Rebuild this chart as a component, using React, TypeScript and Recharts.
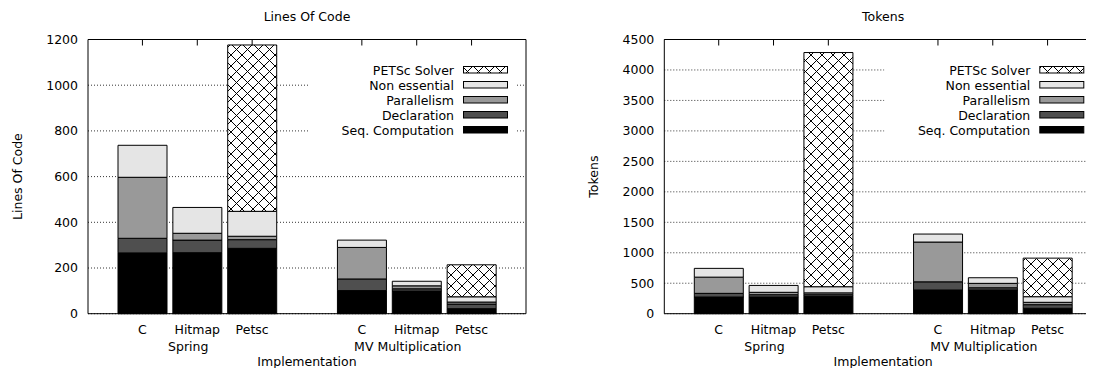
import { BarChart, Bar, XAxis, YAxis, CartesianGrid } from 'recharts'

// categories along the x axis (empty slot between the two groups)
const categories = ['C', 'Hitmap', 'Petsc', '', 'C', 'Hitmap', 'Petsc']
const groups = ['', 'Spring', '', '', '', 'MV Multiplication', '']

const seriesKeys = ['seq', 'decl', 'par', 'nonEss', 'solver']
const seriesNames = ['Seq. Computation', 'Declaration', 'Parallelism', 'Non essential', 'PETSc Solver']

// Lines Of Code
const locSeq = [266, 267, 286, null, 101, 99, 22]
const locDecl = [64, 55, 38, null, 51, 10, 20]
const locPar = [267, 30, 15, null, 138, 13, 9]
const locNonEss = [140, 113, 109, null, 32, 20, 23]
const locSolver = [0, 0, 728, null, 0, 0, 140]
const locTicks = [0, 200, 400, 600, 800, 1000, 1200]

// Tokens
const tokSeq = [274, 274, 285, null, 389, 389, 89]
const tokDecl = [60, 38, 27, null, 134, 37, 59]
const tokPar = [266, 39, 30, null, 653, 72, 39]
const tokNonEss = [144, 113, 101, null, 131, 92, 92]
const tokSolver = [0, 0, 3843, null, 0, 0, 633]
const tokTicks = [0, 500, 1000, 1500, 2000, 2500, 3000, 3500, 4000, 4500]

const FONT = 'DejaVu Sans, sans-serif'
const FS = 12.5
const H = 376
const TOP = 38.5
const XAXIS_H = 62.3
const RIGHT = 20
const YAXIS_W = 60
const HATCH = 11

function buildRows(seq, decl, par, nonEss, solver) {
  return categories.map((c, i) => ({
    id: 'k' + i,
    label: c,
    group: groups[i],
    seq: seq[i],
    decl: decl[i],
    par: par[i],
    nonEss: nonEss[i],
    solver: solver[i],
  }))
}

const locRows = buildRows(locSeq, locDecl, locPar, locNonEss, locSolver)
const tokRows = buildRows(tokSeq, tokDecl, tokPar, tokNonEss, tokSolver)

const fills = (pid: string) => ['#000000', '#4f4f4f', '#999999', '#e5e5e5', `url(#${pid})`]

interface PanelProps {
  title: string
  yLabel: string
  rows: any[]
  ticks: number[]
  width: number
  left: number
  pid: string
}

function Panel({ title, yLabel, rows, ticks, width, left, pid }: PanelProps) {
  const max = ticks[ticks.length - 1]
  const plotLeft = left + YAXIS_W
  const plotRight = width - RIGHT - 1
  const plotMid = (plotLeft + plotRight) / 2
  const plotTop = TOP + 1
  const plotBottom = H - XAXIS_H
  const colors = fills(pid)
  const byId: Record<string, any> = {}
  rows.forEach(r => (byId[r.id] = r))

  // category label, group label below it, and the mirrored tick on the top border
  const BottomTick = (p: any) => {
    const r = byId[p.payload.value]
    if (!r || !r.label) return <g />
    return (
      <g>
        <line x1={p.x} x2={p.x} y1={plotTop} y2={plotTop + 6} stroke="#000" strokeWidth={1} />
        <text x={p.x} y={p.y + 20.5} textAnchor="middle" fontSize={FS} fill="#000">{r.label}</text>
        {r.group ? (
          <text x={p.x - 9} y={p.y + 37.5} textAnchor="middle" fontSize={FS} fill="#000">{r.group}</text>
        ) : null}
      </g>
    )
  }

  const RightTick = (p: any) => {
    if (p.payload.value === 0 || p.payload.value === max) return <g />
    return <line x1={p.x - 8} x2={p.x} y1={p.y} y2={p.y} stroke="#000" />
  }

  const legendRows = [...seriesNames].reverse()
  const legendColors = [...colors].reverse()

  return (
    <BarChart
      width={width}
      height={H}
      data={rows}
      margin={{ top: TOP, right: RIGHT, bottom: 0, left: left }}
      barSize={49}
    >
      <defs>
        <pattern id={pid} width={HATCH} height={HATCH} patternUnits="userSpaceOnUse">
          <rect width={HATCH} height={HATCH} fill="#fff" />
          <path
            d={`M0,0 L${HATCH},${HATCH} M${HATCH},0 L0,${HATCH}`}
            stroke="#000"
            strokeWidth={1}
          />
        </pattern>
      </defs>

      <CartesianGrid vertical={false} stroke="#000" strokeDasharray="1 2" strokeWidth={0.8} />

      {/* legend background hides the grid */}
      <rect x={plotLeft + 220} y={58} width={207} height={82} fill="#fff" />

      {seriesKeys.map((k, i) => (
        <Bar
          key={k}
          dataKey={k}
          name={seriesNames[i]}
          stackId="a"
          fill={colors[i]}
          stroke="#000"
          strokeWidth={1}
          isAnimationActive={false}
        />
      ))}

      <XAxis
        dataKey="id"
        height={XAXIS_H}
        interval={0}
        tickSize={0}
        tickMargin={0}
        tickLine={false}
        axisLine={{ stroke: '#000' }}
        padding={{ left: 27, right: 27 }}
        tick={BottomTick}
      />
      <XAxis
        xAxisId="top"
        dataKey="id"
        orientation="top"
        height={1}
        tick={false}
        tickLine={false}
        axisLine={{ stroke: '#000' }}
        padding={{ left: 27, right: 27 }}
      />
      <YAxis
        width={YAXIS_W}
        domain={[0, max]}
        ticks={ticks}
        interval={0}
        tickSize={0}
        tickMargin={10}
        tickLine={false}
        axisLine={{ stroke: '#000' }}
        tick={{ fill: '#000', fontSize: FS }}
      />
      <YAxis
        yAxisId="r"
        orientation="right"
        width={1}
        domain={[0, max]}
        ticks={ticks}
        interval={0}
        tickSize={0}
        tickMargin={0}
        tickLine={false}
        axisLine={{ stroke: '#000' }}
        tick={RightTick}
      />

      {/* legend */}
      <g fontSize={FS} fill="#000">
        {legendRows.map((name, i) => (
          <g key={name}>
            <text x={plotLeft + 366} y={75 + i * 15} textAnchor="end" fill="#000">{name}</text>
            <rect
              x={plotLeft + 375.5}
              y={66.5 + i * 15}
              width={44}
              height={6.5}
              fill={legendColors[i]}
              stroke="#000"
              strokeWidth={1}
            />
          </g>
        ))}
      </g>

      <text x={plotMid} y={21} textAnchor="middle" fontSize={FS} fill="#000">{title}</text>
      <text x={plotMid} y={plotBottom + 52.5} textAnchor="middle" fontSize={FS} fill="#000">Implementation</text>
      <text
        x={left - 10.5}
        y={(plotTop + plotBottom) / 2}
        textAnchor="middle"
        fontSize={FS}
        fill="#000"
        transform={`rotate(-90 ${left - 10.5} ${(plotTop + plotBottom) / 2})`}
        dy={4.5}
      >
        {yLabel}
      </text>
    </BarChart>
  )
}

export default function App() {
  return (
    <div
      style={{
        position: 'relative',
        width: 1094,
        height: H,
        margin: -8,
        overflow: 'hidden',
        background: '#fff',
        fontFamily: FONT,
      }}
    >
      <div style={{ position: 'absolute', left: 0, top: 0 }}>
        <Panel title="Lines Of Code" yLabel="Lines Of Code" rows={locRows} ticks={locTicks} width={547} left={28} pid="hatchLoc" />
      </div>
      <div style={{ position: 'absolute', left: 547, top: 0 }}>
        <Panel title="Tokens" yLabel="Tokens" rows={tokRows} ticks={tokTicks} width={576} left={57.3} pid="hatchTok" />
      </div>
    </div>
  )
}
